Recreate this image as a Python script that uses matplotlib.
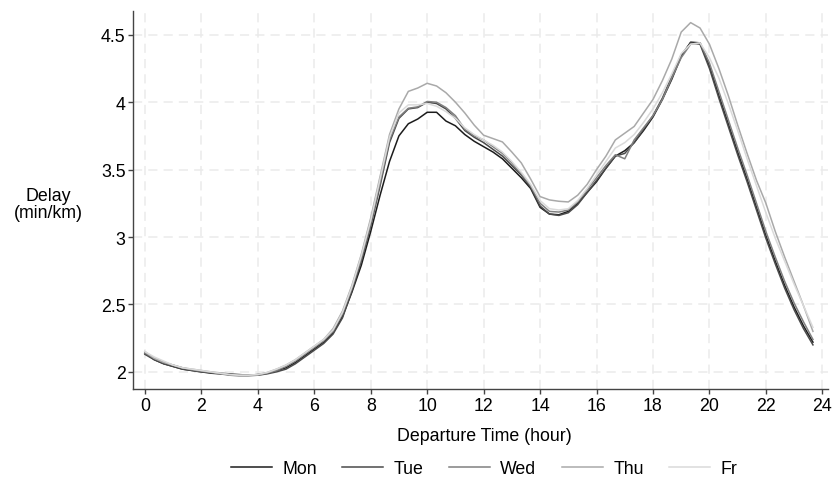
import numpy as np
import matplotlib
matplotlib.use("Agg")
import matplotlib.pyplot as plt

plt.rcParams['font.family'] = ['Liberation Sans', 'DejaVu Sans']

# departure time in 20-minute bins
hours = np.arange(72) / 3.0

mon = [2.14, 2.09, 2.06, 2.04, 2.02, 2.01, 2.00, 1.99, 1.985, 1.98, 1.975, 1.975,
       1.98, 1.99, 2.01, 2.03, 2.07, 2.12, 2.17, 2.22, 2.29, 2.41, 2.59, 2.79,
       3.04, 3.31, 3.56, 3.75, 3.84, 3.875, 3.925, 3.925, 3.86, 3.825, 3.76, 3.71,
       3.67, 3.63, 3.58, 3.51, 3.44, 3.36, 3.22, 3.17, 3.165, 3.19, 3.25, 3.33,
       3.41, 3.51, 3.60, 3.64, 3.70, 3.79, 3.89, 4.02, 4.17, 4.34, 4.445, 4.44,
       4.27, 4.05, 3.84, 3.63, 3.43, 3.22, 3.01, 2.82, 2.64, 2.48, 2.34, 2.22]

tue = [2.13, 2.09, 2.06, 2.04, 2.02, 2.01, 2.00, 1.995, 1.99, 1.985, 1.98, 1.975,
       1.975, 1.985, 2.00, 2.02, 2.06, 2.11, 2.16, 2.21, 2.28, 2.40, 2.60, 2.82,
       3.08, 3.38, 3.70, 3.88, 3.95, 3.96, 4.00, 3.99, 3.95, 3.88, 3.79, 3.74,
       3.70, 3.65, 3.60, 3.53, 3.46, 3.37, 3.23, 3.17, 3.16, 3.18, 3.24, 3.33,
       3.42, 3.51, 3.60, 3.62, 3.70, 3.80, 3.90, 4.03, 4.19, 4.35, 4.44, 4.43,
       4.25, 4.03, 3.82, 3.61, 3.41, 3.20, 2.99, 2.80, 2.62, 2.46, 2.32, 2.20]

wed = [2.14, 2.10, 2.07, 2.05, 2.03, 2.015, 2.005, 1.995, 1.985, 1.975, 1.97, 1.97,
       1.975, 1.99, 2.01, 2.04, 2.08, 2.13, 2.18, 2.23, 2.30, 2.43, 2.62, 2.84,
       3.10, 3.40, 3.72, 3.89, 3.955, 3.965, 4.005, 4.00, 3.96, 3.90, 3.80, 3.75,
       3.72, 3.67, 3.62, 3.55, 3.47, 3.38, 3.25, 3.19, 3.185, 3.20, 3.26, 3.35,
       3.44, 3.53, 3.61, 3.58, 3.72, 3.81, 3.90, 4.02, 4.18, 4.33, 4.43, 4.44,
       4.29, 4.08, 3.87, 3.66, 3.46, 3.25, 3.04, 2.85, 2.67, 2.51, 2.37, 2.24]

thu = [2.15, 2.10, 2.07, 2.05, 2.03, 2.02, 2.01, 2.00, 1.99, 1.98, 1.975, 1.975,
       1.98, 1.995, 2.02, 2.05, 2.09, 2.14, 2.19, 2.24, 2.32, 2.45, 2.64, 2.87,
       3.14, 3.45, 3.76, 3.95, 4.08, 4.105, 4.14, 4.12, 4.07, 4.00, 3.92, 3.83,
       3.755, 3.73, 3.705, 3.63, 3.55, 3.43, 3.30, 3.275, 3.265, 3.26, 3.31, 3.39,
       3.50, 3.60, 3.72, 3.77, 3.82, 3.92, 4.02, 4.16, 4.32, 4.52, 4.59, 4.55,
       4.43, 4.25, 4.05, 3.83, 3.62, 3.42, 3.25, 3.04, 2.85, 2.67, 2.49, 2.30]

fri = [2.15, 2.11, 2.08, 2.05, 2.03, 2.02, 2.01, 2.00, 1.99, 1.98, 1.975, 1.975,
       1.98, 1.995, 2.02, 2.05, 2.09, 2.14, 2.19, 2.24, 2.31, 2.44, 2.63, 2.86,
       3.12, 3.43, 3.74, 3.92, 3.98, 3.98, 3.99, 3.97, 3.93, 3.88, 3.81, 3.76,
       3.72, 3.68, 3.63, 3.56, 3.48, 3.39, 3.27, 3.21, 3.20, 3.21, 3.27, 3.36,
       3.46, 3.56, 3.66, 3.70, 3.76, 3.85, 3.95, 4.07, 4.21, 4.36, 4.43, 4.44,
       4.33, 4.18, 3.99, 3.79, 3.58, 3.38, 3.18, 2.99, 2.82, 2.65, 2.49, 2.33]

labels = ['Mon', 'Tue', 'Wed', 'Thu', 'Fr']
colors = ['#1c1c1c', '#4a4a4a', '#808080', '#a9a9a9', '#dadada']
xticks = np.arange(0, 25, 2)
yticks = [2, 2.5, 3, 3.5, 4, 4.5]

fig = plt.figure(figsize=(8.32, 4.81), dpi=100)
ax = fig.add_axes([0.1602, 0.189, 0.835, 0.786])

for series, lab, col in zip([mon, tue, wed, thu, fri], labels, colors):
    ax.plot(hours, series, color=col, lw=1.1, label=lab)

ax.set_xlim(-0.41, 24.2)
ax.set_ylim(1.872, 4.676)
ax.set_xticks(xticks)
ax.set_yticks(yticks)
ax.set_yticklabels(['2', '2.5', '3', '3.5', '4', '4.5'])
ax.grid(True, color='#ebebeb', lw=1.1, ls=(0, (6, 4)))
ax.set_axisbelow(True)

for s in ['top', 'right']:
    ax.spines[s].set_visible(False)
for s in ['left', 'bottom']:
    ax.spines[s].set_color('#444444')
    ax.spines[s].set_linewidth(1.0)
ax.tick_params(length=3.6, width=1.0, color='#444444', labelsize=12.8, pad=2)

fig.text(0.0577, 0.574, 'Delay\n(min/km)', ha='center', va='center',
         fontsize=12.8, linespacing=0.95)
fig.text(0.582, 0.0915, 'Departure Time (hour)', ha='center', va='center',
         fontsize=12.8)

fig.legend(loc='center', bbox_to_anchor=(0.582, 0.023), ncol=5, frameon=False,
           fontsize=12.8, handlelength=2.28, handletextpad=0.6,
           columnspacing=1.44, borderpad=0)

fig.savefig('out.png', dpi=100)
